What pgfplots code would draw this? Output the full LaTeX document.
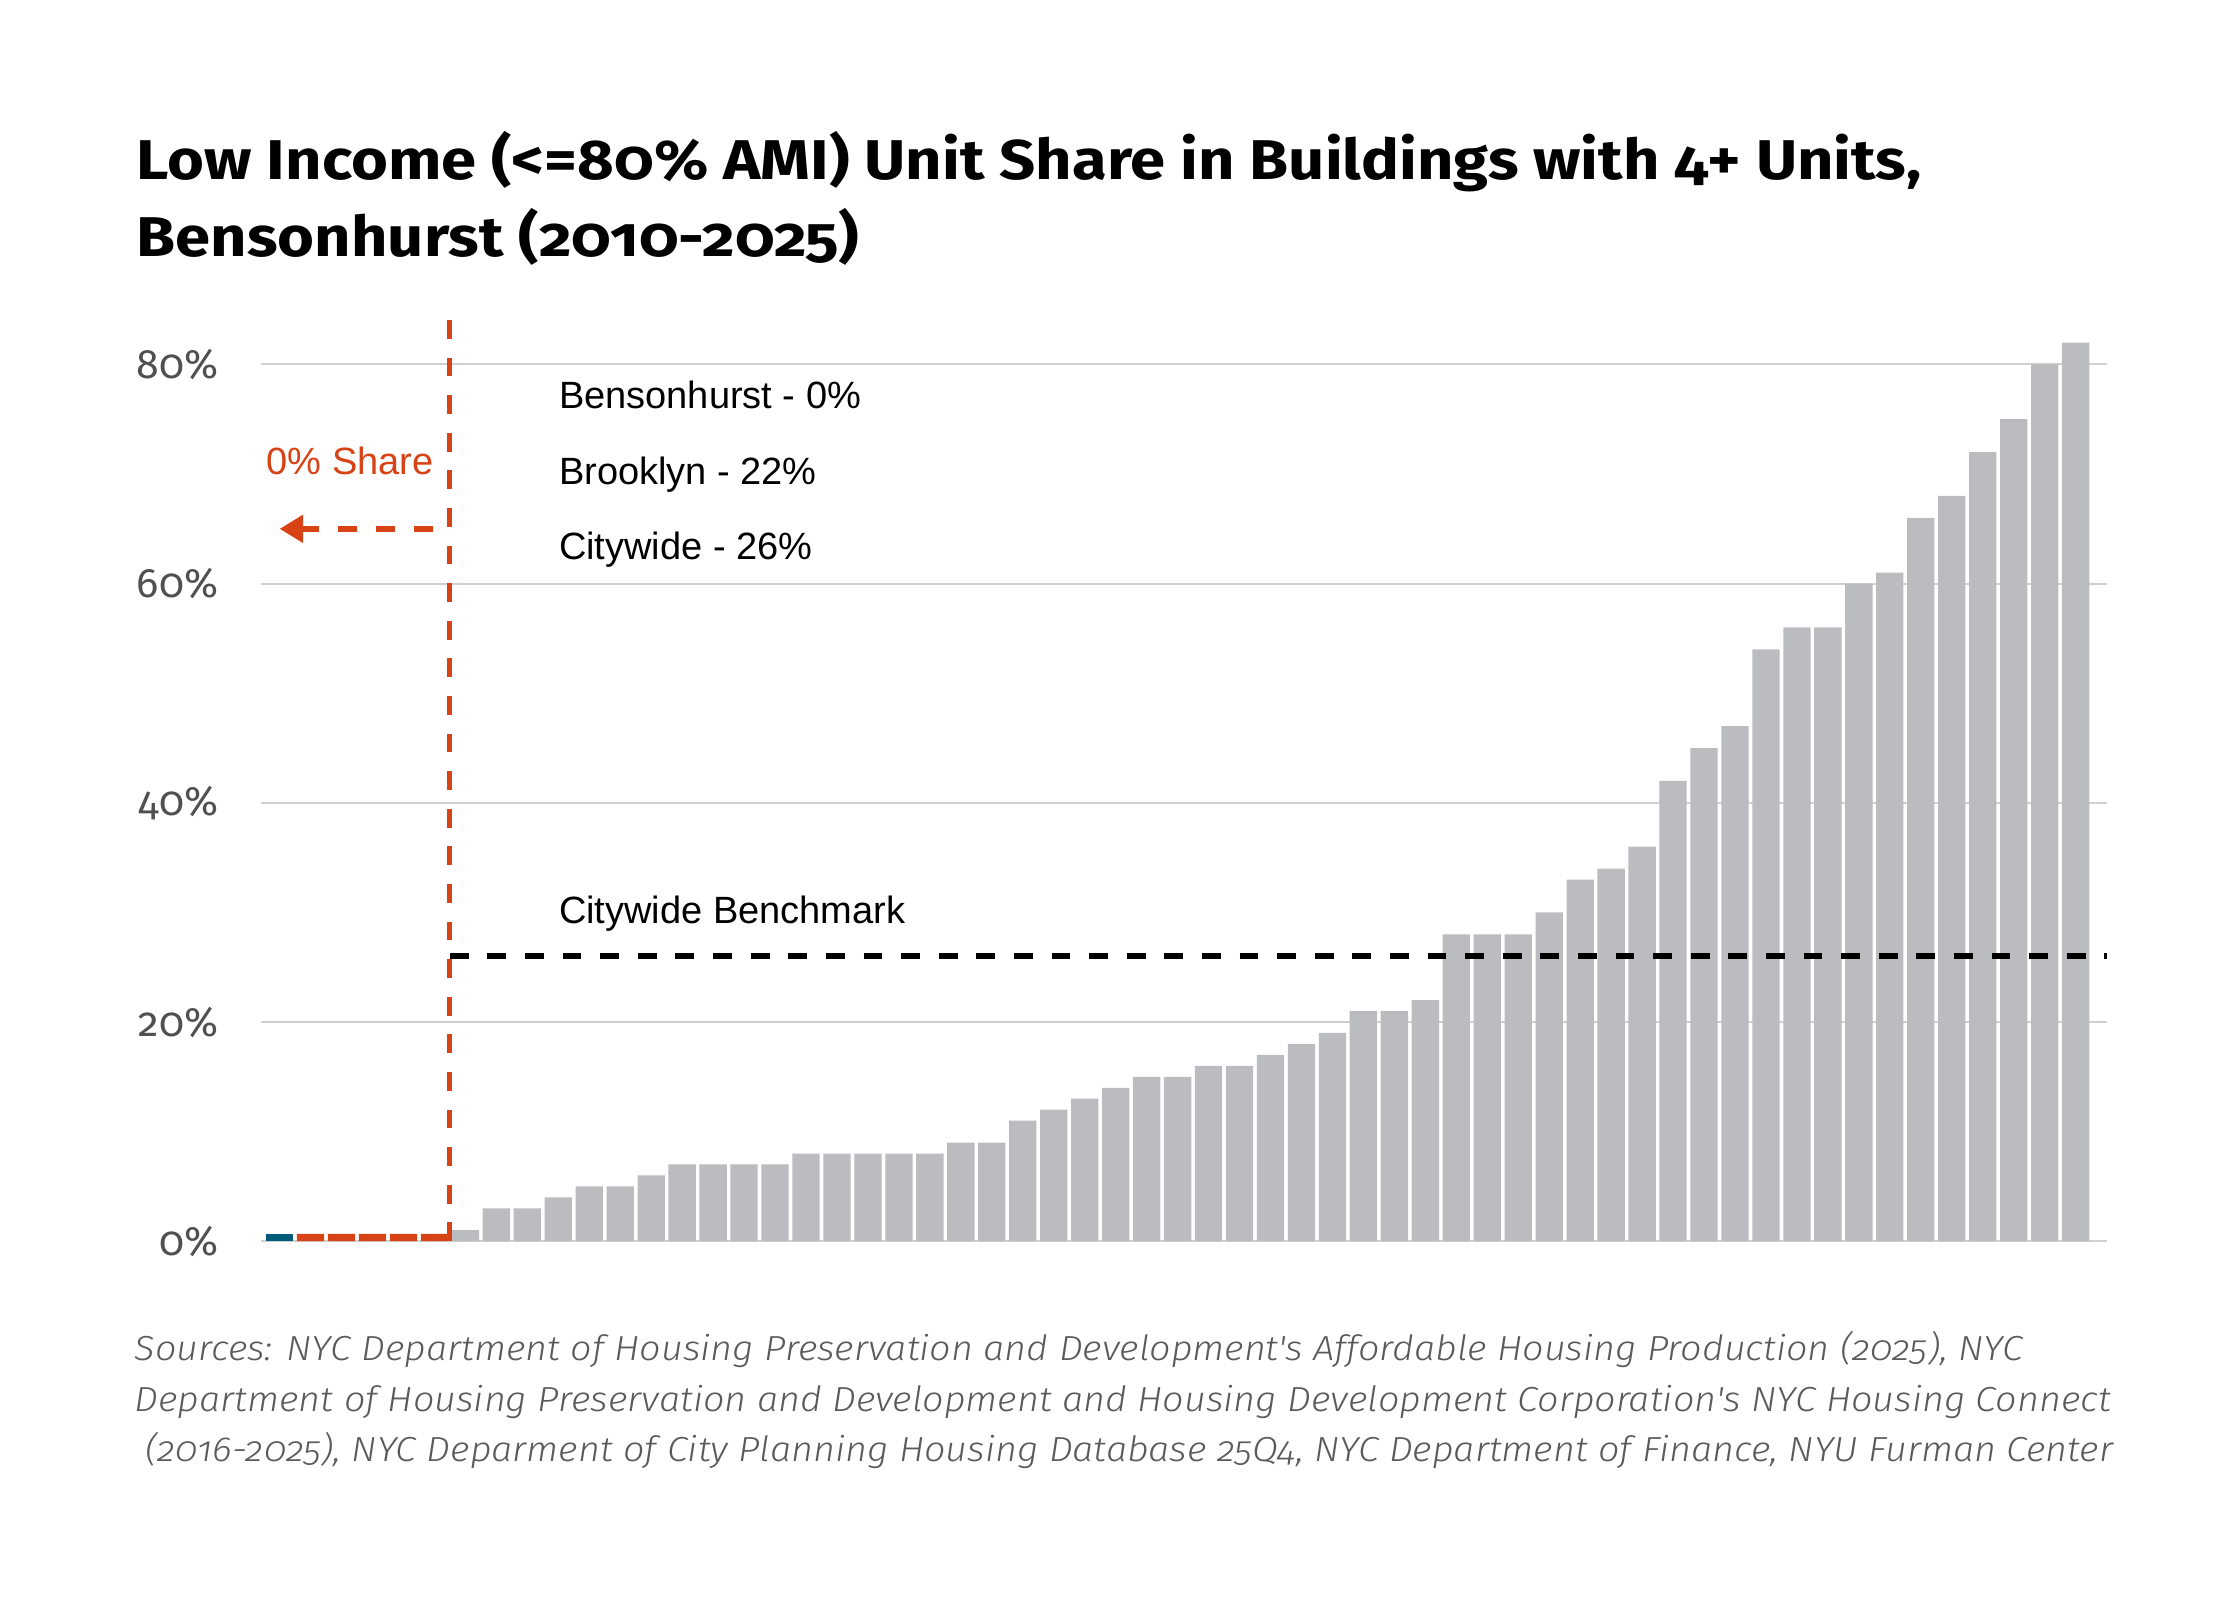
\documentclass[border=0pt]{standalone}
\usepackage{pgfplots}
\pgfplotsset{compat=1.18}
\usepackage{pgfplotstable}
\usetikzlibrary{arrows.meta}
\usepackage{fontspec}
\setmainfont{Liberation Sans}
\newfontfamily\firabold{Fira Sans Bold}[Numbers=OldStyle, FakeStretch=1.13]
\newfontfamily\firareg{Fira Sans}[Numbers=OldStyle]
\newfontfamily\firalightit{Fira Sans Light Italic}[Numbers=OldStyle, FakeStretch=1.085]
\definecolor{barg}{HTML}{BBBCC0}
\definecolor{bblue}{HTML}{005A78}
\definecolor{borange}{HTML}{D84315}
\definecolor{gridc}{HTML}{D0D0D0}
\definecolor{tickc}{HTML}{505050}
\definecolor{srcc}{HTML}{5A5A5A}

\pgfplotstableread{
x y
7 1
8 3
9 3
10 4
11 5
12 5
13 6
14 7
15 7
16 7
17 7
18 8
19 8
20 8
21 8
22 8
23 9
24 9
25 11
26 12
27 13
28 14
29 15
30 15
31 16
32 16
33 17
34 18
35 19
36 21
37 21
38 22
39 28
40 28
41 28
42 30
43 33
44 34
45 36
46 42
47 45
48 47
49 54
50 56
51 56
52 60
53 61
54 66
55 68
56 72
57 75
58 80
59 82
}\graydata

\begin{document}
\begin{tikzpicture}
\useasboundingbox (0,0) rectangle (560pt,400pt);
\node[anchor=base west, inner sep=0pt, font=\firabold\fontsize{14}{17}\selectfont] at (34pt,355.2pt) {Low Income (<=80\% AMI) Unit Share in Buildings with 4+ Units,};
\node[anchor=base west, inner sep=0pt, font=\firabold\fontsize{14}{17}\selectfont] at (34pt,335.8pt) {Bensonhurst (2010-2025)};

\begin{axis}[
  at={(65.25pt,89.7pt)}, anchor=south west,
  scale only axis, width=461.4pt, height=232.9pt,
  xmin=0.4, xmax=60, ymin=0, ymax=85,
  axis line style={draw=none},
  major tick length=0pt,
  xtick=\empty,
  ytick={0,20,40,60,80},
  yticklabel={\pgfmathprintnumber{\tick}\%},
  /pgf/number format/assume math mode=true,
  ymajorgrids,
  grid style={gridc, line width=0.5pt},
  yticklabel style={font=\firareg\fontsize{10.3}{12}\selectfont, text=tickc, inner sep=0pt, anchor=east, xshift=-10.5pt},
  clip=false,
]
\addplot[ybar, bar shift=0pt, bar width=6.83pt, fill=bblue, draw=none] coordinates {(1,0.67)};
\addplot[ybar, bar shift=0pt, bar width=6.83pt, fill=borange, draw=none] coordinates {(2,0.67)(3,0.67)(4,0.67)(5,0.67)(6,0.67)};
\addplot[ybar, bar shift=0pt, bar width=6.83pt, fill=barg, draw=none] table[x=x,y=y] {\graydata};

\addplot[borange, line width=1.25pt, dash pattern=on 4.7pt off 4.7pt] coordinates {(6.5,0)(6.5,85)};
\addplot[black, line width=1.45pt, dash pattern=on 4.7pt off 4.7pt] coordinates {(6.5,26)(60,26)};

\draw[borange, line width=1.5pt, dash pattern=on 4.7pt off 4.8pt] (axis cs:5.95,65) -- (axis cs:1.6,65);
\draw[borange, line width=1.5pt, -{Triangle[length=5.9pt,width=6.7pt]}] (axis cs:1.8,65) -- (axis cs:1.0,65);

\node[anchor=base east, inner sep=0pt, font=\fontsize{9.5}{11}\selectfont, text=borange] at (axis cs:6.0,70.0) {0\% Share};
\node[anchor=base west, inner sep=0pt, font=\fontsize{9.5}{11}\selectfont] at (axis cs:10,76.0) {Bensonhurst - 0\%};
\node[anchor=base west, inner sep=0pt, font=\fontsize{9.5}{11}\selectfont] at (axis cs:10,69.07) {Brooklyn - 22\%};
\node[anchor=base west, inner sep=0pt, font=\fontsize{9.5}{11}\selectfont] at (axis cs:10,62.2) {Citywide - 26\%};
\node[anchor=base west, inner sep=0pt, font=\fontsize{9.5}{11}\selectfont] at (axis cs:10,28.95) {Citywide Benchmark};
\end{axis}

\node[anchor=base west, inner sep=0pt, text=srcc, font=\firalightit\fontsize{8.7}{10}\selectfont] at (33.5pt,60pt) {Sources: NYC Department of Housing Preservation and Development's Affordable Housing Production (2025), NYC};
\node[anchor=base west, inner sep=0pt, text=srcc, font=\firalightit\fontsize{8.7}{10}\selectfont] at (33.5pt,47.25pt) {Department of Housing Preservation and Development and Housing Development Corporation's NYC Housing Connect};
\node[anchor=base west, inner sep=0pt, text=srcc, font=\firalightit\fontsize{8.7}{10}\selectfont] at (36.2pt,34.6pt) {(2016-2025), NYC Deparment of City Planning Housing Database 25Q4, NYC Department of Finance, NYU Furman Center};
\end{tikzpicture}
\end{document}
